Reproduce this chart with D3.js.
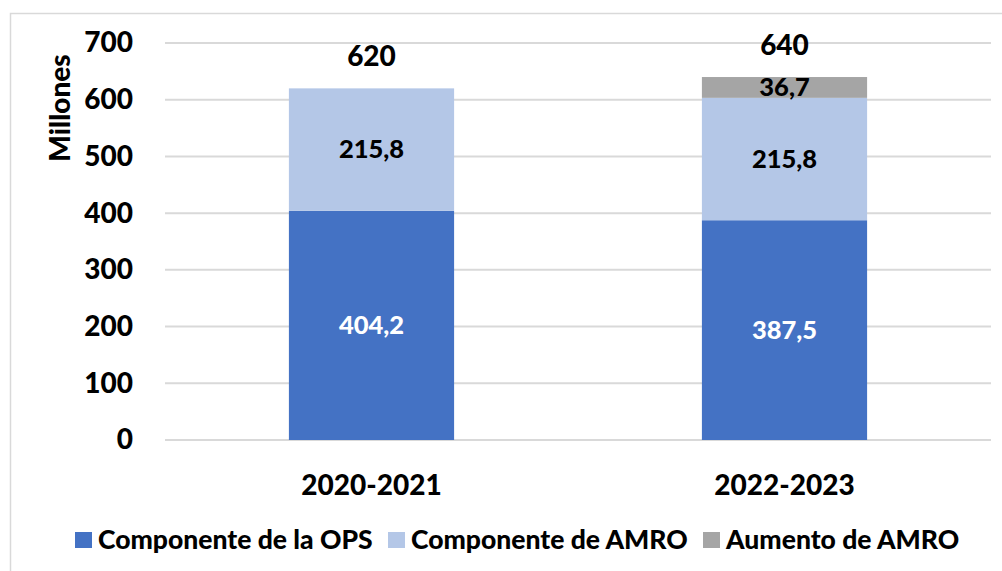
<!DOCTYPE html>
<html>
<head>
<meta charset="utf-8">
<script src="https://cdn.jsdelivr.net/npm/d3@7"></script>
<style>
  body { margin: 0; background: #fff; }
  text { font-family: Lato, "Open Sans", sans-serif; font-weight: 900; }
</style>
</head>
<body>
<svg width="1002" height="571"></svg>
<script>
const periods = ['2020-2021', '2022-2023'];
const seriesNames = ['Componente de la OPS', 'Componente de AMRO', 'Aumento de AMRO'];
const ops = [404.2, 387.5];
const amro = [215.8, 215.8];
const aumento = [0, 36.7];
const totals = [620, 640];
const yTicks = [0, 100, 200, 300, 400, 500, 600, 700];
const colors = ['#4472C4', '#B4C7E7', '#A5A5A5'];
const labelColors = ['#fff', '#000', '#000'];

const rows = periods.map((p, i) => ({ period: p, s0: ops[i], s1: amro[i], s2: aumento[i], total: totals[i] }));

const svg = d3.select('svg');

// outer frame
svg.append('rect')
  .attr('x', 10.5).attr('y', 13.5)
  .attr('width', 1010).attr('height', 600)
  .attr('fill', 'none').attr('stroke', '#D9D9D9').attr('stroke-width', 1.5);

const x = d3.scaleBand()
  .domain(periods)
  .range([165, 991])
  .paddingInner(0.6)
  .paddingOuter(0.3);

const y = d3.scaleLinear()
  .domain([0, 700])
  .range([440, 43]);

// gridlines
svg.append('g')
  .selectAll('line')
  .data(yTicks)
  .join('line')
  .attr('x1', 165).attr('x2', 991)
  .attr('y1', d => y(d)).attr('y2', d => y(d))
  .attr('stroke', '#D9D9D9').attr('stroke-width', 2);

// y axis labels
const yAxis = svg.append('g')
  .attr('transform', 'translate(133,0)')
  .call(d3.axisLeft(y).tickValues(yTicks).tickSize(0).tickPadding(0));
yAxis.select('.domain').remove();
yAxis.selectAll('text')
  .attr('font-size', 28).attr('fill', '#000')
  .style('font-family', 'Lato, sans-serif').style('font-weight', 900);

svg.append('text')
  .attr('transform', 'translate(70,108) rotate(-90)')
  .attr('text-anchor', 'middle')
  .attr('font-size', 28)
  .text('Millones');

// x axis labels
const xAxis = svg.append('g')
  .attr('transform', 'translate(0,440)')
  .call(d3.axisBottom(x).tickSize(0).tickPadding(35));
xAxis.select('.domain').remove();
xAxis.selectAll('text')
  .attr('font-size', 28).attr('fill', '#000')
  .style('font-family', 'Lato, sans-serif').style('font-weight', 900);

const stack = d3.stack().keys(['s0', 's1', 's2']);
const series = stack(rows);

const groups = svg.append('g')
  .selectAll('g')
  .data(series)
  .join('g')
  .attr('fill', (d, i) => colors[i]);

groups.selectAll('rect')
  .data(d => d.filter(v => v[1] > v[0]))
  .join('rect')
  .attr('x', d => x(d.data.period))
  .attr('width', x.bandwidth())
  .attr('y', d => y(d[1]))
  .attr('height', d => y(d[0]) - y(d[1]));

// segment labels
series.forEach((s, i) => {
  svg.append('g')
    .selectAll('text')
    .data(s.filter(v => v[1] > v[0]))
    .join('text')
    .attr('x', d => x(d.data.period) + x.bandwidth() / 2)
    .attr('y', d => (y(d[0]) + y(d[1])) / 2)
    .attr('dy', '0.35em')
    .attr('text-anchor', 'middle')
    .attr('font-size', 25.5)
    .attr('fill', labelColors[i])
    .text(d => d3.format('.1f')(d[1] - d[0]).replace('.', ','));
});

// totals
svg.append('g')
  .selectAll('text')
  .data(rows)
  .join('text')
  .attr('x', d => x(d.period) + x.bandwidth() / 2)
  .attr('y', d => y(d.total) - 22)
  .attr('text-anchor', 'middle')
  .attr('font-size', 28)
  .text(d => d.total);

// legend
const legendX = [75, 388, 703];
const legend = svg.append('g')
  .selectAll('g')
  .data(seriesNames)
  .join('g')
  .attr('transform', (d, i) => `translate(${legendX[i]},532)`);
legend.append('rect')
  .attr('width', 17).attr('height', 16)
  .attr('fill', (d, i) => colors[i]);
legend.append('text')
  .attr('x', 23).attr('y', 17)
  .attr('font-size', 26.5)
  .text(d => d);
</script>
</body>
</html>
